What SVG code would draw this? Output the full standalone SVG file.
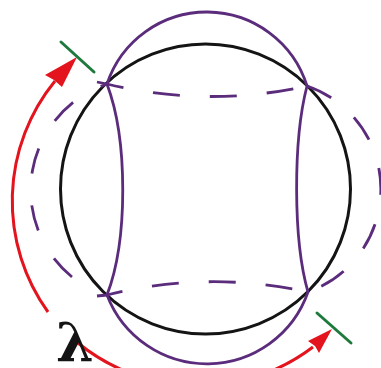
<svg xmlns="http://www.w3.org/2000/svg" width="381" height="368" viewBox="0 0 381 368">
<style>
.blk{fill:none;stroke:#141414;stroke-width:3}
.pur{fill:none;stroke:#5b2c7c;stroke-width:2.8;stroke-linejoin:round}
.dash{fill:none;stroke:#5b2c7c;stroke-width:2.8;stroke-dasharray:27 30}
.red{fill:none;stroke:#e3141d;stroke-width:3}
.head{fill:#e3141d;stroke:none}
.grn{fill:none;stroke:#1e7a3c;stroke-width:3;stroke-linecap:round}
.lam{font-family:"DejaVu Serif","Liberation Serif",serif;font-weight:bold;font-size:54px;fill:#141414}
</style>
<rect width="381" height="368" fill="#ffffff"/>
<g id="circle">
<circle class="blk" cx="205.5" cy="189" r="145"/>
</g>
<g id="solid-shape">
<path class="pur" d="M107,84 A105,105 0 0 1 307,86 C293,140 293,240 308,292 A107,107 0 0 1 107,295 C128,240 128,140 107,84 Z"/>
</g>
<g id="dashed-shape">
<path class="dash" d="M97,82 L107,84 Q207,108 307,86"/>
<path class="dash" d="M307,86 A109,109 0 0 1 308,292"/>
<path class="dash" style="stroke-dashoffset:41" d="M308,292 Q207,270 107,295 L97,296"/>
<path class="dash" style="stroke-dasharray:26 32" d="M72,277 A112,112 0 0 1 107,84"/>
</g>
<g id="connectors">
<path class="red" d="M48,312 A190,190 0 0 1 55,81"/>
<polygon class="head" points="77,57 45,75 54,80 62,87"/>
<path class="red" d="M78,343 A190,190 0 0 0 313,347"/>
<polygon class="head" points="332,329 308,341 315,346 319,353"/>
</g>
<g id="ticks">
<line class="grn" x1="61" y1="42" x2="94" y2="72"/>
<line class="grn" x1="317" y1="313" x2="351" y2="343"/>
</g>
<g id="label">
<text class="lam" x="56" y="362">λ</text>
</g>
</svg>
